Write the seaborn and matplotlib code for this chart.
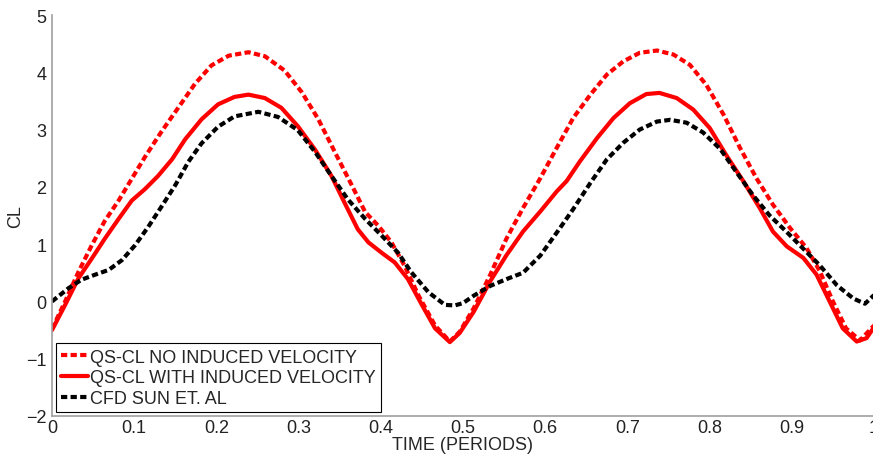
import numpy as np
import pandas as pd
import matplotlib
matplotlib.use("Agg")
import matplotlib.pyplot as plt
import seaborn as sns

# ---- data ----
t_no_induced = [0, 0.016, 0.032, 0.048, 0.064, 0.081, 0.097, 0.113, 0.133, 0.154, 0.174, 0.194,
                0.215, 0.239, 0.259, 0.283, 0.304, 0.324, 0.344, 0.365, 0.381, 0.397, 0.413, 0.429,
                0.446, 0.466, 0.484, 0.496, 0.513, 0.533, 0.553, 0.573, 0.594, 0.614, 0.634, 0.655,
                0.675, 0.695, 0.715, 0.736, 0.756, 0.776, 0.796, 0.817, 0.837, 0.857, 0.877, 0.898,
                0.918, 0.934, 0.950, 0.966, 0.983, 1.0]
cl_no_induced = [-0.48, 0.0, 0.51, 0.97, 1.40, 1.76, 2.14, 2.52, 2.96, 3.39, 3.80, 4.12,
                 4.29, 4.35, 4.28, 4.03, 3.65, 3.18, 2.61, 2.02, 1.56, 1.32, 1.03, 0.62,
                 0.10, -0.42, -0.70, -0.53, -0.12, 0.46, 1.10, 1.63, 2.15, 2.68, 3.20, 3.61,
                 3.96, 4.19, 4.34, 4.38, 4.31, 4.13, 3.78, 3.26, 2.68, 2.15, 1.69, 1.28,
                 0.93, 0.53, 0.0, -0.47, -0.68, -0.42]

t_with_induced = [0, 0.016, 0.032, 0.048, 0.064, 0.081, 0.097, 0.113, 0.129, 0.146, 0.162, 0.182,
                  0.202, 0.222, 0.239, 0.259, 0.279, 0.299, 0.320, 0.340, 0.356, 0.372, 0.385, 0.401,
                  0.417, 0.433, 0.450, 0.466, 0.484, 0.496, 0.513, 0.533, 0.553, 0.573, 0.594, 0.614,
                  0.626, 0.642, 0.663, 0.683, 0.703, 0.723, 0.739, 0.760, 0.780, 0.800, 0.820, 0.841,
                  0.861, 0.877, 0.894, 0.914, 0.930, 0.946, 0.962, 0.979, 0.991, 1.0]
cl_with_induced = [-0.50, -0.06, 0.40, 0.74, 1.09, 1.44, 1.76, 1.96, 2.19, 2.48, 2.83, 3.18,
                   3.44, 3.57, 3.61, 3.55, 3.38, 3.06, 2.65, 2.19, 1.72, 1.26, 1.03, 0.85,
                   0.68, 0.39, -0.06, -0.47, -0.71, -0.55, -0.18, 0.35, 0.81, 1.22, 1.57, 1.92,
                   2.10, 2.44, 2.85, 3.20, 3.46, 3.62, 3.64, 3.55, 3.35, 3.03, 2.56, 2.10,
                   1.63, 1.22, 0.96, 0.76, 0.47, 0.0, -0.47, -0.70, -0.64, -0.45]

t_cfd = [0, 0.020, 0.036, 0.053, 0.069, 0.085, 0.101, 0.117, 0.133, 0.150, 0.166, 0.182,
         0.202, 0.222, 0.251, 0.275, 0.299, 0.320, 0.340, 0.360, 0.381, 0.401, 0.421, 0.437,
         0.458, 0.478, 0.490, 0.500, 0.513, 0.533, 0.553, 0.573, 0.594, 0.614, 0.634, 0.655,
         0.675, 0.695, 0.715, 0.736, 0.752, 0.772, 0.792, 0.813, 0.833, 0.853, 0.873, 0.894,
         0.914, 0.934, 0.955, 0.975, 0.989, 1.0]
cl_cfd = [0.0, 0.23, 0.38, 0.47, 0.55, 0.72, 0.98, 1.30, 1.65, 2.03, 2.44, 2.76,
          3.05, 3.23, 3.31, 3.22, 2.99, 2.61, 2.19, 1.78, 1.44, 1.15, 0.85, 0.51,
          0.16, -0.06, -0.07, -0.03, 0.10, 0.27, 0.39, 0.50, 0.80, 1.20, 1.61, 2.07,
          2.48, 2.77, 3.00, 3.14, 3.17, 3.12, 2.95, 2.66, 2.25, 1.85, 1.50, 1.21,
          0.92, 0.63, 0.28, 0.05, -0.04, 0.11]

labels = ["QS-CL NO INDUCED VELOCITY", "QS-CL WITH INDUCED VELOCITY", "CFD SUN ET. AL"]
x_ticks = [0, 0.1, 0.2, 0.3, 0.4, 0.5, 0.6, 0.7, 0.8, 0.9, 1]
x_tick_labels = ["0", "0.1", "0.2", "0.3", "0.4", "0.5", "0.6", "0.7", "0.8", "0.9", "1"]
y_ticks = [-2, -1, 0, 1, 2, 3, 4, 5]

# ---- style ----
sns.set_style("white")
plt.rcParams["font.family"] = ["Liberation Sans", "DejaVu Sans"]
plt.rcParams["font.size"] = 13

fig = plt.figure(figsize=(8.73, 4.64), dpi=100)
ax = fig.add_axes([52 / 873, 47 / 464, 822 / 873, 401 / 464])

dash = (0, (1.5, 0.8))
sns.lineplot(x=t_no_induced, y=cl_no_induced, ax=ax, color="#ff0000", lw=3,
             linestyle=dash, label=labels[0], sort=False)
sns.lineplot(x=t_with_induced, y=cl_with_induced, ax=ax, color="#ff0000", lw=3,
             linestyle="-", label=labels[1], sort=False)
sns.lineplot(x=t_cfd, y=cl_cfd, ax=ax, color="black", lw=3,
             linestyle=dash, label=labels[2], sort=False)

ax.set_xlim(0, 1)
ax.set_ylim(-2, 5)
ax.set_xticks(x_ticks)
ax.set_xticklabels(x_tick_labels)
ax.set_yticks(y_ticks)
ax.set_xlabel("TIME (PERIODS)", fontsize=13, labelpad=0)
ax.set_ylabel("CL", fontsize=13, labelpad=1)

for side in ["top", "right"]:
    ax.spines[side].set_visible(False)
for side in ["left", "bottom"]:
    ax.spines[side].set_color("#a0a0a0")
    ax.spines[side].set_linewidth(1.2)
ax.tick_params(direction="in", length=6, width=1, color="#a0a0a0",
               labelsize=13, labelcolor="#222222", pad=4)
ax.tick_params(axis="x", pad=2)

leg = ax.legend(loc="lower left", borderaxespad=0.2, fancybox=False, framealpha=1,
                edgecolor="black", handlelength=1.5, handletextpad=0.1,
                labelspacing=0.2, borderpad=0.3, fontsize=13)
leg.get_frame().set_linewidth(0.8)

fig.savefig("out.png", dpi=100)
